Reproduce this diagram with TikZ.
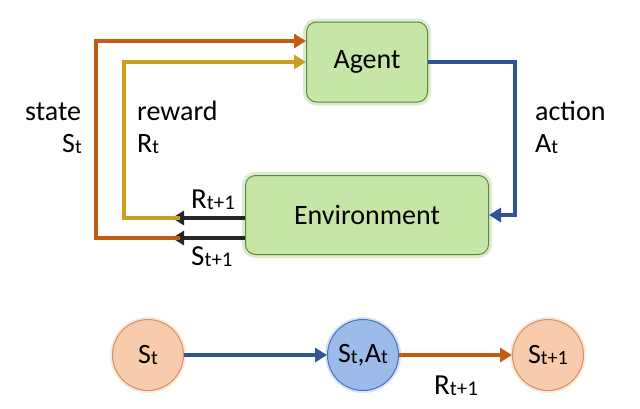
\documentclass[tikz,border=0pt]{standalone}
\usepackage{fontspec}
\setmainfont{Carlito}
\usetikzlibrary{arrows.meta,positioning}
\definecolor{orng}{HTML}{C55A11}
\definecolor{gold}{HTML}{C9A01A}
\definecolor{blu}{HTML}{2F5597}
\definecolor{grfill}{HTML}{C5E6A6}
\definecolor{grline}{HTML}{70AD47}
\definecolor{orfill}{HTML}{F8CBAD}
\definecolor{orline}{HTML}{E8A070}
\definecolor{blfill}{HTML}{9DBBEA}
\definecolor{blline}{HTML}{4472C4}
\newcommand{\lsub}[1]{\raisebox{-0.05em}{\fontsize{0.72em}{0.8em}\selectfont #1}}
\tikzset{
  box/.style={draw=grline!80!black, line width=1pt, fill=grfill, rounded corners=10pt,
    font=\fontsize{28}{30}\selectfont, inner sep=0pt,
    preaction={draw=grline!50, line width=7pt, opacity=0.5}},
  circ/.style={circle, minimum size=71pt, inner sep=0pt, line width=1pt,
    font=\fontsize{28}{30}\selectfont},
  ostate/.style={circ, draw=orline!90!black, fill=orfill, preaction={draw=orline!60, line width=5pt, opacity=0.4}},
  bstate/.style={circ, draw=blline, fill=blfill, preaction={draw=blline!50, line width=5pt, opacity=0.4}},
  conn/.style={line width=4pt, -{Triangle[length=12pt,width=14pt]}},
  lbl/.style={font=\fontsize{28}{30}\selectfont, inner sep=0pt},
  slbl/.style={font=\fontsize{29}{31}\selectfont, inner sep=0pt},
}
\begin{document}
\begin{tikzpicture}[x=1pt,y=-1pt]
\useasboundingbox (0,0) rectangle (640,408);
\node[box, minimum width=121pt, minimum height=80pt] (agent) at (367,62) {Agent};
\node[box, minimum width=243pt, minimum height=79pt] (env) at (367,215) {Environment};
% black short arrows
\coordinate (rt) at (172,218);
\coordinate (st) at (172,238);
\draw[conn, black!85] (env.west |- rt) -- (rt);
\draw[conn, black!85] (env.west |- st) -- (st);
% reward line
\draw[conn, gold] ([xshift=8pt]rt) -| (124,62) -- (agent.west |- 0,62);
% state line
\draw[conn, orng] ([xshift=8pt]st) -| (96,41) -- (agent.west |- 0,41);
% action
\draw[conn, blu] (agent.east) -| (515,215) -- (env.east);
% labels
\node[lbl, anchor=base west] (lstate) at (25,120) {state};
\node[lbl, anchor=base east] (lst) at (82,152) {S\lsub{t}};
\node[lbl, anchor=base west] (lrew) at (137,120) {reward};
\node[lbl, anchor=base west] (lrt) at (137,152) {R\lsub{t}};
\node[lbl, anchor=base west] (lact) at (535,120) {action};
\node[lbl, anchor=base west] (lat) at (535,152) {A\lsub{t}};
\node[slbl, anchor=base west] (lrt1) at (191,208) {R\lsub{t+1}};
\node[slbl, anchor=base west] (lst1) at (191,265) {S\lsub{t+1}};
% bottom chain
\node[ostate] (s0) at (148,355) {S\lsub{t}};
\node[bstate] (sa) at (363,355) {S\lsub{t},A\lsub{t}};
\node[ostate] (s1) at (548,355) {S\lsub{t+1}};
\draw[conn, blu] (s0) -- (sa);
\draw[conn, orng] (sa) -- (s1);
\node[slbl] (lr) at (456,386) {R\lsub{t+1}};
\end{tikzpicture}
\end{document}
